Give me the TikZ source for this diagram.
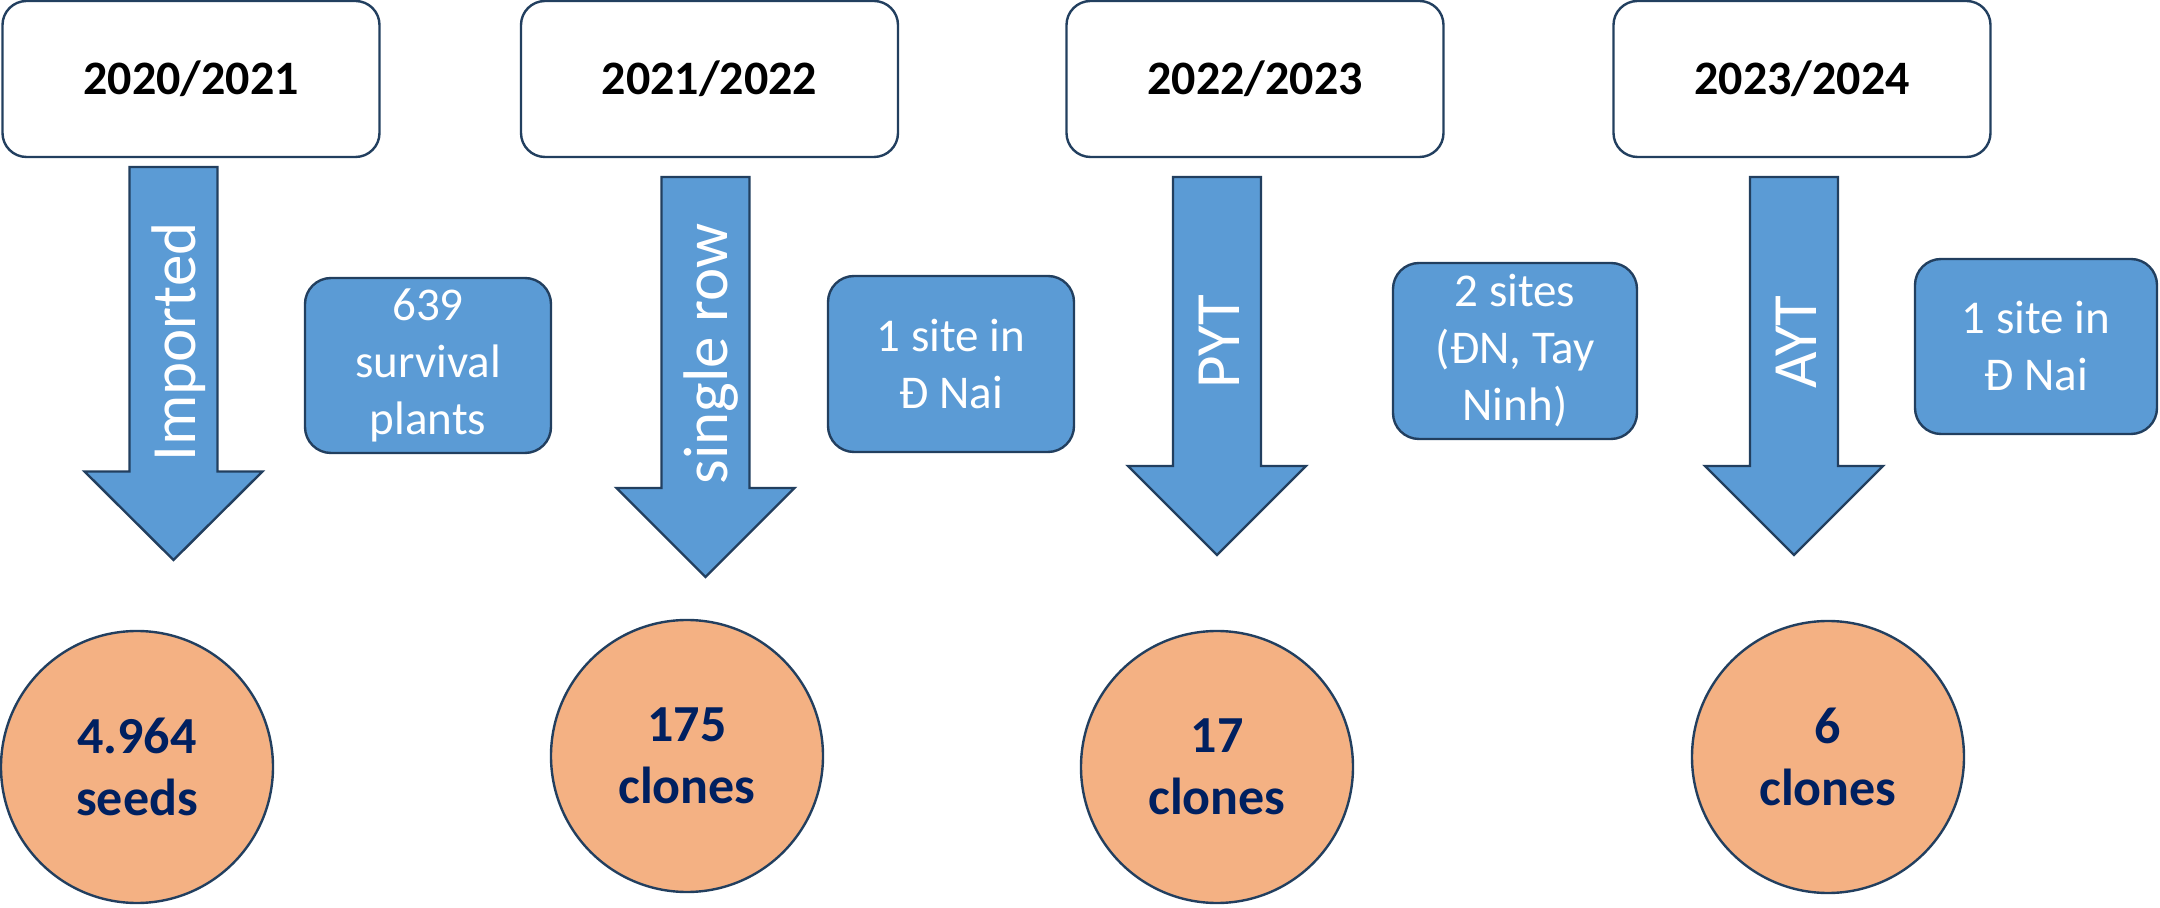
\documentclass[tikz,border=0pt]{standalone}
\usepackage{fontspec}
\setmainfont{Carlito}
\definecolor{blueF}{HTML}{5B9BD5}
\definecolor{edgeC}{HTML}{223F5F}
\definecolor{orangeF}{HTML}{F4B183}
\definecolor{navyT}{HTML}{002060}
\tikzset{
  yearbox/.style={draw=edgeC, line width=1.2pt, fill=white, rounded corners=12pt,
    minimum width=188.5pt, minimum height=78pt, inner sep=0pt,
    font=\fontsize{24}{29}\selectfont\bfseries},
  sitebox/.style={draw=edgeC, line width=1.2pt, fill=blueF, rounded corners=13pt,
    text=white, align=center, inner sep=0pt,
    font=\fontsize{23.5}{28.5}\selectfont},
  countcirc/.style={circle, draw=edgeC, line width=1.2pt, fill=orangeF,
    minimum size=136pt, inner sep=0pt, text=navyT, align=center,
    font=\fontsize{26}{31}\selectfont\bfseries},
  blockarrow/.style={draw=edgeC, line width=1.2pt, fill=blueF, line join=miter},
  arrowtext/.style={rotate=90, anchor=base, text=white, inner sep=0pt,
    font=\fontsize{31.5}{38}\selectfont}
}
\begin{document}
\begin{tikzpicture}[x=0.5pt, y=-0.5pt]
\useasboundingbox (0,0) rectangle (2160,908);

% year boxes
\node[yearbox] (y1) at (191,79) {2020/2021};
\node[yearbox] (y2) at (709.5,79) {2021/2022};
\node[yearbox] (y3) at (1255,79) {2022/2023};
\node[yearbox] (y4) at (1802,79) {2023/2024};

% block arrows
\draw[blockarrow] (129.5,167) -- (217.5,167) -- (217.5,471.5) -- (262.5,471.5) -- (173.5,560) -- (84.5,471.5) -- (129.5,471.5) -- cycle;
\draw[blockarrow] (661.5,177) -- (749.5,177) -- (749.5,488) -- (794.5,488) -- (705.5,577) -- (616.5,488) -- (661.5,488) -- cycle;
\draw[blockarrow] (1173,177) -- (1261,177) -- (1261,466) -- (1306,466) -- (1217,555) -- (1128,466) -- (1173,466) -- cycle;
\draw[blockarrow] (1750,177) -- (1838,177) -- (1838,466) -- (1883,466) -- (1794,555) -- (1705,466) -- (1750,466) -- cycle;

\node[arrowtext] (a1) at (195.5,342) {Imported};
\node[arrowtext] (a2) at (727.5,354) {single row};
\node[arrowtext] (a3) at (1239,342) {PYT};
\node[arrowtext] (a4) at (1816,342) {AYT};

% site boxes
\node[sitebox, minimum width=123pt, minimum height=87.5pt] (s1) at (428,365.5) {639\\survival\\plants};
\node[sitebox, minimum width=123pt, minimum height=88pt] (s2) at (951,364) {1 site in\\Đ Nai};
\node[sitebox, minimum width=122pt, minimum height=88pt] (s3) at (1515,351) {2 sites\\(ĐN, Tay\\Ninh)};
\node[sitebox, minimum width=121pt, minimum height=87.5pt] (s4) at (2036,346.5) {1 site in\\Đ Nai};

% count circles
\node[countcirc] (c1) at (137,767) {4.964\\seeds};
\node[countcirc] (c2) at (687,756) {175\\clones};
\node[countcirc] (c3) at (1217,767) {17\\clones};
\node[countcirc] (c4) at (1828,757) {6\\clones};
\end{tikzpicture}
\end{document}
